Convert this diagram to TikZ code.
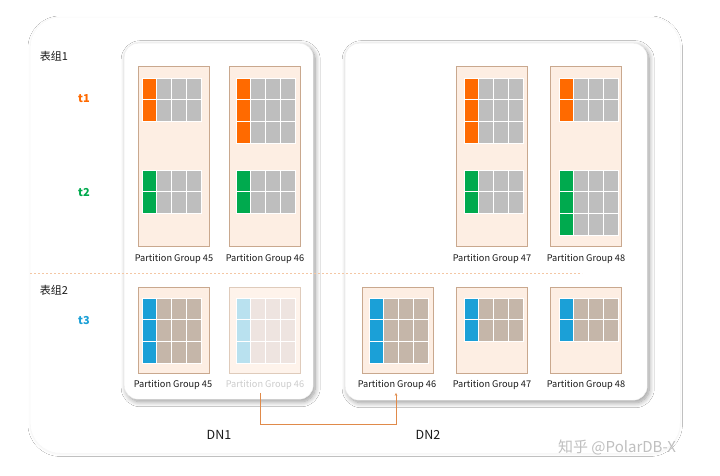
\documentclass[tikz,border=0pt]{standalone}
\usepackage{fontspec}
\setmainfont{Noto Sans CJK SC}
\usetikzlibrary{shadows.blur,arrows.meta}
\definecolor{tor}{HTML}{FF6A00}
\definecolor{tgr}{HTML}{00AA4E}
\definecolor{tbl}{HTML}{1BA0D7}
\definecolor{cellg}{HTML}{BEBEBE}
\definecolor{cellb}{HTML}{C5B6A9}
\definecolor{fadeb}{HTML}{B9E1EF}
\definecolor{fadec}{HTML}{EEE4E0}
\definecolor{pfill}{HTML}{FDEEE3}
\definecolor{pline}{HTML}{C9A88E}
\definecolor{conn}{HTML}{E08A4A}
\definecolor{divline}{HTML}{F4C7A4}
\definecolor{txt}{HTML}{1A1A1A}
\newcommand\mygrid[5]{%
  \foreach \r in {1,...,#3}{%
    \foreach \c in {0,...,3}{%
      \ifnum\c=0 \def\cc{#4}\else\def\cc{#5}\fi
      \filldraw[fill=\cc, draw=white, line width=0.8pt]
        ({#1+\c*14.75},{#2+(\r-1)*21.8}) rectangle ++(14.75,21.8);
    }%
  }%
}
\begin{document}
\begin{tikzpicture}[x=1pt,y=-1pt,
  dnbox/.style={draw=black!7, fill=white, rounded corners=14pt, anchor=north west,
    blur shadow={shadow xshift=2pt, shadow yshift=-2.5pt, shadow blur steps=10, shadow blur radius=5pt, shadow opacity=40}},
  pbox/.style={draw=pline, fill=pfill, line width=0.6pt, anchor=north west, minimum width=71pt, inner sep=0pt},
  pbtop/.style={pbox, minimum height=180pt},
  pbbot/.style={pbox, minimum height=86pt},
  plabel/.style={font=\fontsize{9.2}{11}\selectfont, text=txt, inner sep=1pt},
  glabel/.style={font=\fontsize{11}{13}\selectfont, text=txt},
  tlabel/.style={font=\fontsize{11}{13}\selectfont\bfseries},
  dnlabel/.style={font=\fontsize{12.5}{14}\selectfont, text=txt},
  connline/.style={draw=conn, line width=0.7pt, -{Stealth[length=3pt,width=2.5pt]}}
]
\useasboundingbox (0,0) rectangle (720,475);
\fill[white] (0,0) rectangle (720,475);
% outer frame
\node[draw=black!3, fill=white, rounded corners=30pt, anchor=north west, minimum width=650pt, minimum height=436pt,
  blur shadow={shadow xshift=0pt, shadow yshift=-1pt, shadow blur steps=10, shadow opacity=5}] (outer) at (30,17) {};
% DN boxes
\node[dnbox, minimum width=189pt, minimum height=356pt] (dn1) at (124,43) {};
\node[dnbox, minimum width=302pt, minimum height=357pt] (dn2) at (345,43) {};
% divider
\draw[draw=divline, dash pattern=on 2pt off 2pt, line width=0.7pt] (30,273) -- (582,273);
% group labels
\node[glabel] (g1) at (54,56) {表组1};
\node[glabel] (g2) at (54,290) {表组2};
\node[tlabel, text=tor] (t1) at (84,99) {t1};
\node[tlabel, text=tgr] (t2) at (84,192) {t2};
\node[tlabel, text=tbl] (t3) at (84,320) {t3};
% top partition boxes
\node[pbtop] (p45a) at (138,66) {};
\node[pbtop] (p46a) at (229,66) {};
\node[pbtop] (p47a) at (456,66) {};
\node[pbtop] (p48a) at (550,66) {};
\node[plabel] (l45a) at (174,259) {Partition Group 45};
\node[plabel] (l46a) at (265,259) {Partition Group 46};
\node[plabel] (l47a) at (492,259) {Partition Group 47};
\node[plabel] (l48a) at (586,259) {Partition Group 48};
\mygrid{142}{78}{2}{tor}{cellg}
\mygrid{142}{170}{2}{tgr}{cellg}
\mygrid{236}{78}{3}{tor}{cellg}
\mygrid{236}{170}{2}{tgr}{cellg}
\mygrid{464}{78}{3}{tor}{cellg}
\mygrid{464}{170}{2}{tgr}{cellg}
\mygrid{559}{78}{2}{tor}{cellg}
\mygrid{559}{170}{3}{tgr}{cellg}
% bottom partition boxes
\node[pbbot] (p45b) at (138,287) {};
\node[pbbot, draw=pline!60, fill=pfill!70] (p46f) at (229,287) {};
\node[pbbot] (p46b) at (362,287) {};
\node[pbbot] (p47b) at (456,287) {};
\node[pbbot] (p48b) at (550,287) {};
\node[plabel] (l45b) at (173,385) {Partition Group 45};
\node[plabel, text=black!20] (l46f) at (265,385) {Partition Group 46};
\node[plabel] (l46b) at (397,385) {Partition Group 46};
\node[plabel] (l47b) at (492,385) {Partition Group 47};
\node[plabel] (l48b) at (586,385) {Partition Group 48};
\mygrid{142}{298}{3}{tbl}{cellb}
\mygrid{236}{298}{3}{fadeb}{fadec}
\mygrid{369}{298}{3}{tbl}{cellb}
\mygrid{464}{298}{2}{tbl}{cellb}
\mygrid{559}{298}{2}{tbl}{cellb}
% migration connector
\draw[connline] ([xshift=-5pt,yshift=-2pt]l46f.south) -- ++(0,32) -| ([xshift=-1pt,yshift=-2pt]l46b.south);
% DN labels
\node[dnlabel] (d1) at (219,435) {DN1};
\node[dnlabel] (d2) at (428,435) {DN2};
% watermark
\node[font=\fontsize{15}{17}\selectfont, text=black!25] (wm) at (617,447) {知乎 @PolarDB-X};
\end{tikzpicture}
\end{document}
